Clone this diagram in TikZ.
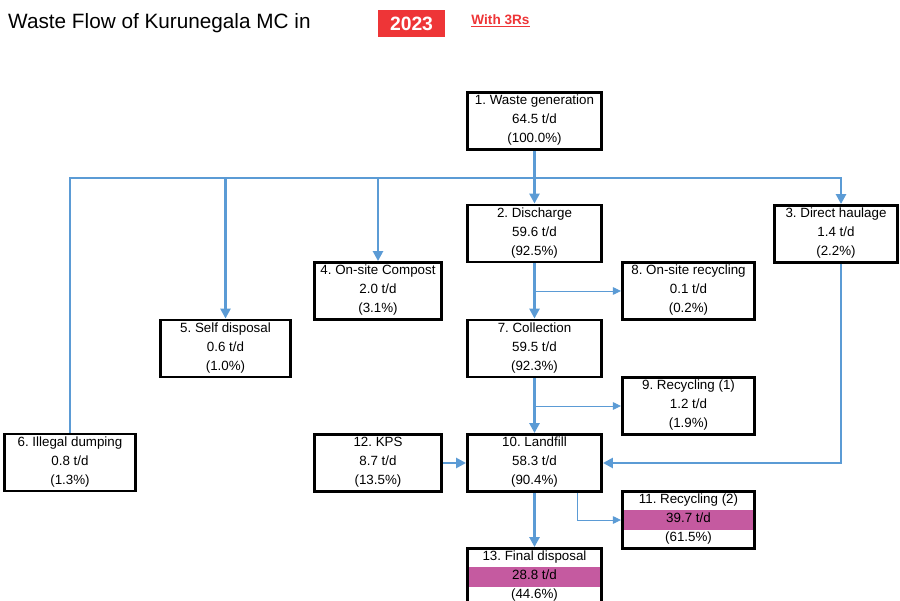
\documentclass[tikz,border=0pt]{standalone}
\usepackage{fontspec}
\setmainfont{Liberation Sans}
\usetikzlibrary{arrows.meta, shapes.multipart}
\definecolor{flowblue}{RGB}{91,155,213}
\definecolor{bandpink}{RGB}{197,90,160}
\definecolor{yearred}{RGB}{238,53,55}
\newcommand{\boxlines}[3]{#1\strut\nodepart{two}#2\strut\nodepart{three}#3\strut}
\frenchspacing

\begin{document}
\begin{tikzpicture}[x=0.03cm, y=-0.03cm,
                        wbox/.style={rectangle split, rectangle split parts=3, rectangle split draw splits=false,
                                draw=black, line width=2.2pt, inner xsep=1pt, inner ysep=1pt,
                                font=\fontsize{11.4}{12.1}\selectfont},
                        band/.style={rectangle split part fill={white, bandpink, white}},
                        flow/.style={draw=flowblue, line width=2.3pt, -{Triangle[length=8.5pt, width=8.5pt]}},
                        thinflow/.style={draw=flowblue, line width=0.8pt, -{Triangle[length=7pt, width=6.5pt]}}]
                        \clip (0, 0) rectangle (900, 601);
                        \useasboundingbox (0, 0) rectangle (900, 601);
                        % title
                        \node[anchor=west, inner sep=0pt, font=\fontsize{17.7}{20}\selectfont] (title) at (8, 23){Waste Flow of Kurunegala MC in};
                        \node[fill=yearred, text=white, inner sep=0pt, minimum width=2.01cm, minimum height=0.81cm,
                                font=\fontsize{16.5}{18}\selectfont\bfseries] (year) at (411.5, 23.5){2023};
                        \node[text=yearred, inner sep=0pt, font=\fontsize{11.6}{13}\selectfont\bfseries] (mode) at (500.5, 21){\underline{With 3Rs}};
                        % boxes
                        \node[wbox, minimum width=4.03cm] (gen) at (534.5, 121){\boxlines{1. Waste generation}{64.5 t/d}{(100.0\%)}};
                        \node[wbox, minimum width=4.03cm] (disch) at (534.5, 233.5){\boxlines{2. Discharge}{59.6 t/d}{(92.5\%)}};
                        \node[wbox, minimum width=3.68cm] (haul) at (836, 234){\boxlines{3. Direct haulage}{1.4 t/d}{(2.2\%)}};
                        \node[wbox, minimum width=3.82cm] (compost) at (378, 291){\boxlines{4. On-site Compost}{2.0 t/d}{(3.1\%)}};
                        \node[wbox, minimum width=3.91cm] (selfdisp) at (225.5, 348.5){\boxlines{5. Self disposal}{0.6 t/d}{(1.0\%)}};
                        \node[wbox, minimum width=3.94cm] (illegal) at (70, 462.5){\boxlines{6. Illegal dumping}{0.8 t/d}{(1.3\%)}};
                        \node[wbox, minimum width=4.03cm] (coll) at (534.5, 348.5){\boxlines{7. Collection}{59.5 t/d}{(92.3\%)}};
                        \node[wbox, minimum width=3.97cm] (onrec) at (688.5, 291){\boxlines{8. On-site recycling}{0.1 t/d}{(0.2\%)}};
                        \node[wbox, minimum width=3.97cm] (rec1) at (688.5, 406){\boxlines{9. Recycling (1)}{1.2 t/d}{(1.9\%)}};
                        \node[wbox, minimum width=4.03cm] (landfill) at (534.5, 463){\boxlines{10. Landfill}{58.3 t/d}{(90.4\%)}};
                        \node[wbox, band, minimum width=3.97cm] (rec2) at (688.5, 520){\boxlines{11. Recycling (2)}{39.7 t/d}{(61.5\%)}};
                        \node[wbox, minimum width=3.82cm] (kps) at (378, 463){\boxlines{12. KPS}{8.7 t/d}{(13.5\%)}};
                        \node[wbox, band, minimum width=4.03cm] (final) at (534.5, 577){\boxlines{13. Final disposal}{28.8 t/d}{(44.6\%)}};
                        % flows
                        \coordinate (split) at (534.5, 178);
                        \draw[flow] (gen.south) -- (disch.north);
                        \draw[flow] (illegal.north) |- (split) -| ([xshift=0.15cm]haul.north);
                        \draw[flow] (split) -| (selfdisp.north);
                        \draw[flow] (split) -| (compost.north);
                        \draw[flow] (disch.south) -- (coll.north);
                        \draw[thinflow] (onrec.west -| disch.south) -- (onrec.west);
                        \draw[flow] (coll.south) -- (landfill.north);
                        \draw[thinflow] (rec1.west -| coll.south) -- (rec1.west);
                        \draw[flow] ([xshift=0.15cm]haul.south) |- (landfill.east);
                        \draw[flow] (kps.east) -- (landfill.west);
                        \draw[flow] (landfill.south) -- (final.north);
                        \draw[thinflow] ([xshift=1.28cm]landfill.south) |- (rec2.west);
                \end{tikzpicture}
\end{document}
